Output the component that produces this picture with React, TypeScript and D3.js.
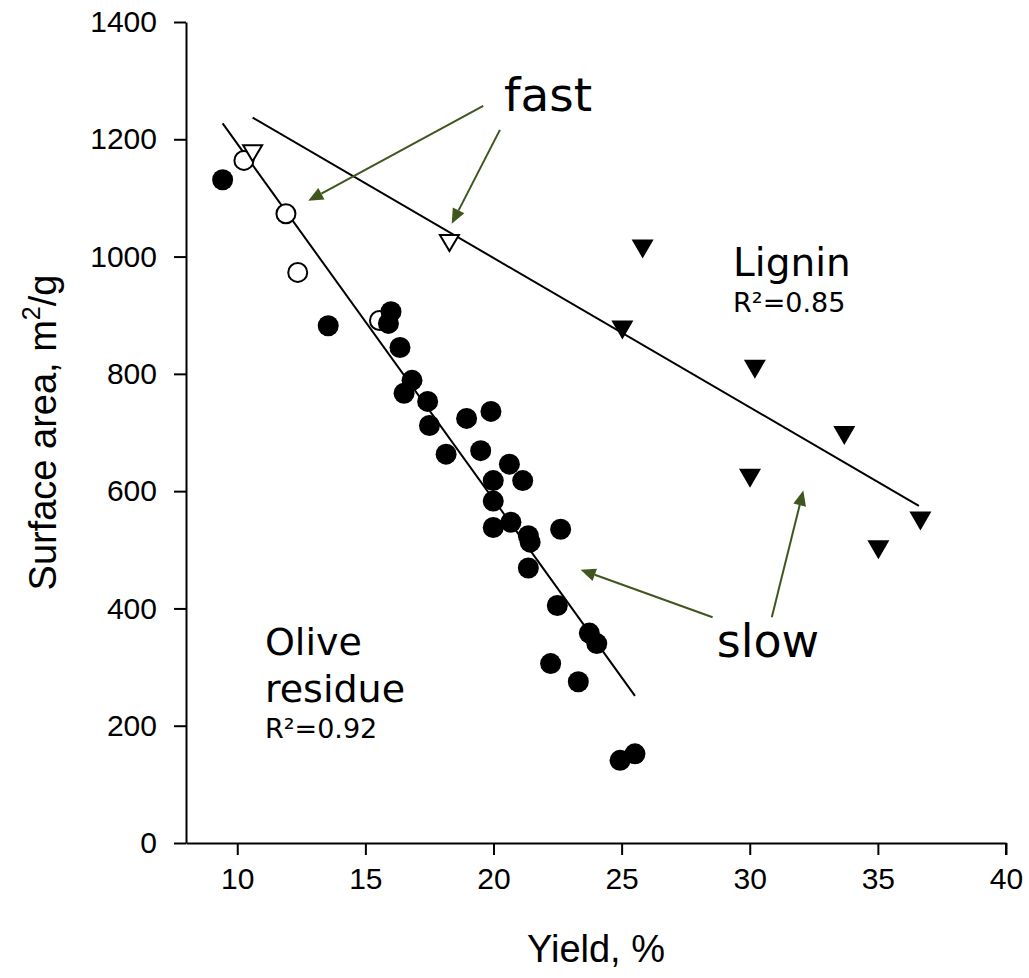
import React, { useEffect, useRef } from 'react';
import * as d3 from 'd3';

// olive residue, filled circles (slow)
const oliveSlowX = [9.43, 13.55, 16.0, 15.9, 16.35, 16.82, 16.51, 17.43, 17.5, 18.95, 19.9, 18.15, 19.5, 20.62, 19.99, 21.14, 19.99, 19.99, 20.68, 21.36, 21.43, 22.62, 21.36, 22.49, 23.74, 24.03, 22.23, 23.31, 24.94, 25.52];
const oliveSlowY = [1131, 882, 906, 886, 845, 789, 767, 753, 712, 724, 736, 663, 669, 646, 618, 618, 583, 538, 547, 524, 513, 535, 469, 405, 358, 340, 306, 275, 141, 152];

// olive residue, open circles (fast)
const oliveFastX = [10.26, 11.9, 12.36, 15.55];
const oliveFastY = [1164, 1073, 973, 891];

// lignin, filled triangles (slow)
const ligninSlowX = [25.82, 25.03, 30.2, 33.69, 30.01, 35.02, 36.66];
const ligninSlowY = [1013, 875, 808, 695, 622, 500, 549];

// lignin, open triangles (fast)
const ligninFastX = [10.6, 18.28];
const ligninFastY = [1176, 1023];

// regression lines [x0, y0, x1, y1]
const oliveFit = [9.43, 1227, 25.52, 251];
const ligninFit = [10.6, 1237, 36.6, 575];

const xTicks = [10, 15, 20, 25, 30, 35, 40];
const yTicks = [0, 200, 400, 600, 800, 1000, 1200, 1400];

// annotation arrows [fromX, fromY, toX, toY]
const arrows = [
  [19.6, 1257, 12.77, 1095],
  [20.25, 1216, 18.37, 1056],
  [28.55, 385, 23.4, 466],
  [30.86, 385, 32.09, 601],
];

const App = () => {
  const svgRef = useRef(null);

  useEffect(() => {
    const width = 1029;
    const height = 978;
    const margin = { top: 22, right: 23, bottom: 135, left: 186 };

    const svg = d3.select(svgRef.current);
    svg.selectAll('*').remove();
    svg.attr('width', width).attr('height', height);

    const x = d3.scaleLinear().domain([8, 40]).range([margin.left, width - margin.right]);
    const y = d3.scaleLinear().domain([0, 1400]).range([height - margin.bottom, margin.top]);

    const axisFont = '"Liberation Sans", Arial, sans-serif';
    const labelFont = '"DejaVu Sans", Verdana, sans-serif';

    // x axis
    const xAxis = svg.append('g')
      .attr('transform', `translate(0,${y(0)})`)
      .call(d3.axisBottom(x).tickValues(xTicks).tickFormat(d3.format('d')).tickSize(12).tickPadding(13).tickSizeOuter(0));
    xAxis.select('.domain').attr('stroke-width', 2);
    xAxis.selectAll('.tick line').attr('stroke-width', 2);
    xAxis.selectAll('.tick text').attr('font-family', axisFont).attr('font-size', 30).attr('fill', '#000');
    svg.append('line')
      .attr('x1', x(40)).attr('x2', x(40))
      .attr('y1', y(0)).attr('y2', y(0) + 12)
      .attr('stroke', '#000').attr('stroke-width', 2);

    // y axis
    const yAxis = svg.append('g')
      .attr('transform', `translate(${x(8)},0)`)
      .call(d3.axisLeft(y).tickValues(yTicks).tickFormat(d3.format('d')).tickSize(12).tickPadding(17).tickSizeOuter(0));
    yAxis.select('.domain').attr('stroke-width', 2);
    yAxis.selectAll('.tick line').attr('stroke-width', 2);
    yAxis.selectAll('.tick text').attr('font-family', axisFont).attr('font-size', 30).attr('fill', '#000');

    // axis titles
    svg.append('text')
      .attr('x', (x(8) + x(40)) / 2)
      .attr('y', 962)
      .attr('text-anchor', 'middle')
      .attr('font-family', axisFont)
      .attr('font-size', 38)
      .text('Yield, %');

    const yTitle = svg.append('text')
      .attr('transform', `translate(56,${(y(0) + y(1400)) / 2}) rotate(-90)`)
      .attr('text-anchor', 'middle')
      .attr('font-family', axisFont)
      .attr('font-size', 38);
    yTitle.append('tspan').text('Surface area, m');
    yTitle.append('tspan').attr('font-size', 25).attr('dy', -16).text('2');
    yTitle.append('tspan').attr('dy', 16).text('/g');

    // fit lines
    [oliveFit, ligninFit].forEach(f => {
      svg.append('line')
        .attr('x1', x(f[0])).attr('y1', y(f[1]))
        .attr('x2', x(f[2])).attr('y2', y(f[3]))
        .attr('stroke', '#000').attr('stroke-width', 2);
    });

    // open circles
    svg.append('g').selectAll('circle')
      .data(d3.zip(oliveFastX, oliveFastY))
      .enter().append('circle')
      .attr('cx', d => x(d[0])).attr('cy', d => y(d[1]))
      .attr('r', 9.5)
      .attr('fill', '#fff').attr('stroke', '#000').attr('stroke-width', 2);

    // filled circles
    svg.append('g').selectAll('circle')
      .data(d3.zip(oliveSlowX, oliveSlowY))
      .enter().append('circle')
      .attr('cx', d => x(d[0])).attr('cy', d => y(d[1]))
      .attr('r', 10.5)
      .attr('fill', '#000');

    // down triangles
    const tri = (cx, cy, w, h) => `M${cx - w / 2},${cy - h / 2}L${cx + w / 2},${cy - h / 2}L${cx},${cy + h / 2}Z`;

    svg.append('g').selectAll('path')
      .data(d3.zip(ligninFastX, ligninFastY))
      .enter().append('path')
      .attr('d', d => tri(x(d[0]), y(d[1]), 19, 16))
      .attr('fill', '#fff').attr('stroke', '#000').attr('stroke-width', 2);

    svg.append('g').selectAll('path')
      .data(d3.zip(ligninSlowX, ligninSlowY))
      .enter().append('path')
      .attr('d', d => tri(x(d[0]), y(d[1]), 22, 19))
      .attr('fill', '#000');

    // arrows
    const green = '#3f561e';
    arrows.forEach(a => {
      const x0 = x(a[0]), y0 = y(a[1]), x1 = x(a[2]), y1 = y(a[3]);
      const ang = Math.atan2(y1 - y0, x1 - x0);
      const len = 15, hw = 6.5;
      const bx = x1 - len * Math.cos(ang), by = y1 - len * Math.sin(ang);
      svg.append('line')
        .attr('x1', x0).attr('y1', y0).attr('x2', bx).attr('y2', by)
        .attr('stroke', green).attr('stroke-width', 2);
      const px = -Math.sin(ang) * hw, py = Math.cos(ang) * hw;
      svg.append('path')
        .attr('d', `M${x1},${y1}L${bx + px},${by + py}L${bx - px},${by - py}Z`)
        .attr('fill', green);
    });

    // labels
    const label = (tx, ty, txt, size) => svg.append('text')
      .attr('x', x(tx)).attr('y', y(ty))
      .attr('font-family', labelFont)
      .attr('font-size', size)
      .attr('fill', '#000')
      .text(txt);

    label(20.41, 1249, 'fast', 47);
    label(28.71, 318, 'slow', 46);
    label(29.35, 967, 'Lignin', 39);
    label(29.35, 906, 'R²=0.85', 27);
    label(11.08, 321, 'Olive', 38);
    label(11.08, 241, 'residue', 38);
    label(11.08, 179, 'R²=0.92', 27);
  }, []);

  return <svg ref={svgRef} style={{ position: 'absolute', left: 0, top: 0, background: '#fff' }}></svg>;
};

export default App;
